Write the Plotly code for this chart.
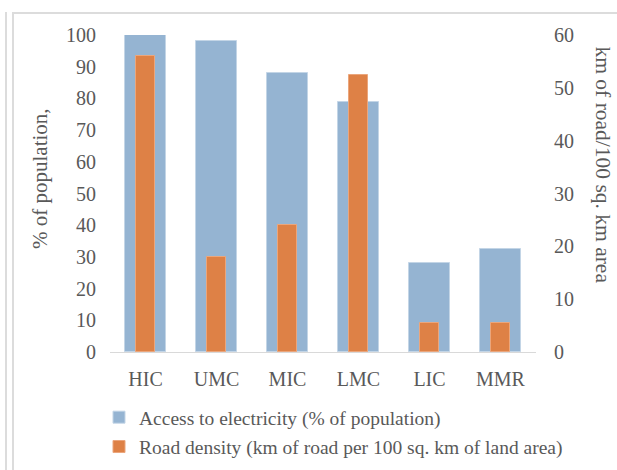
import plotly.graph_objects as go

categories = ["HIC", "UMC", "MIC", "LMC", "LIC", "MMR"]
electricity = [100, 98, 88, 79, 28, 32.5]
road_density = [56, 18, 24, 52.5, 5.5, 5.5]
left_ticks = [0, 10, 20, 30, 40, 50, 60, 70, 80, 90, 100]
right_ticks = [0, 10, 20, 30, 40, 50, 60]

FONT = "Liberation Serif"
GREY = "#595959"
FS = 20

fig = go.Figure()
fig.add_trace(go.Bar(
    x=categories, y=electricity, name="Access to electricity (% of population)",
    marker=dict(color="#95b4d2", line=dict(color="#c3d5e6", width=1)),
    width=0.58, yaxis="y", legendgroup="a",
))
fig.add_trace(go.Bar(
    x=categories, y=road_density, name="Road density (km of road per 100 sq. km of land area)",
    marker=dict(color="#de8146", line=dict(color="#eba67c", width=1)),
    width=0.26, yaxis="y2", legendgroup="b",
))

# frame lines (decoration)
l, w, t, h = 110, 426, 35, 317
def px(xp):
    return (xp - l) / w
def py(yp):
    return (t + h - yp) / h
frame = "#dcdcdc"
shapes = [
    dict(type="line", xref="paper", yref="paper", x0=px(6), x1=px(6), y0=py(12), y1=py(470), line=dict(color=frame, width=2)),
    dict(type="line", xref="paper", yref="paper", x0=px(13), x1=px(13), y0=py(12), y1=py(470), line=dict(color=frame, width=2)),
    dict(type="line", xref="paper", yref="paper", x0=px(12), x1=px(617), y0=py(13), y1=py(13), line=dict(color=frame, width=2)),
]

fig.update_layout(
    width=617, height=470,
    margin=dict(l=l, r=617 - l - w, t=t, b=470 - t - h, autoexpand=False),
    paper_bgcolor="white", plot_bgcolor="white",
    barmode="overlay", bargap=0,
    font=dict(family=FONT, size=FS, color=GREY),
    showlegend=True,
    legend=dict(x=px(99), y=py(398), xanchor="left", yanchor="top",
                orientation="v", tracegroupgap=1, font=dict(size=19.5, color=GREY),
                bgcolor="rgba(0,0,0,0)", itemwidth=30),
    xaxis=dict(showgrid=False, showline=True, linecolor="#d9d9d9", linewidth=1,
               ticks="", tickfont=dict(size=FS, color=GREY), ticklabelstandoff=9,
               zeroline=False, automargin=False),
    yaxis=dict(range=[0, 100], tickvals=left_ticks, showgrid=False, zeroline=False,
               showline=False, ticks="", tickfont=dict(size=FS, color=GREY),
               ticklabelstandoff=13, automargin=False),
    yaxis2=dict(range=[0, 60], tickvals=right_ticks, overlaying="y", side="right",
                showgrid=False, zeroline=False, showline=False, ticks="",
                tickfont=dict(size=FS, color=GREY), ticklabelstandoff=17, automargin=False),
    shapes=shapes,
    annotations=[
        dict(text="% of population,", xref="paper", yref="paper", x=px(40), y=py(179),
             textangle=-90, showarrow=False, font=dict(size=21, color=GREY),
             xanchor="center", yanchor="middle"),
        dict(text="km of road/100 sq. km area", xref="paper", yref="paper", x=px(603), y=py(44),
             textangle=90, showarrow=False, font=dict(size=21.5, color=GREY),
             xanchor="center", yanchor="top"),
    ],
)

fig.write_html("out.html")
